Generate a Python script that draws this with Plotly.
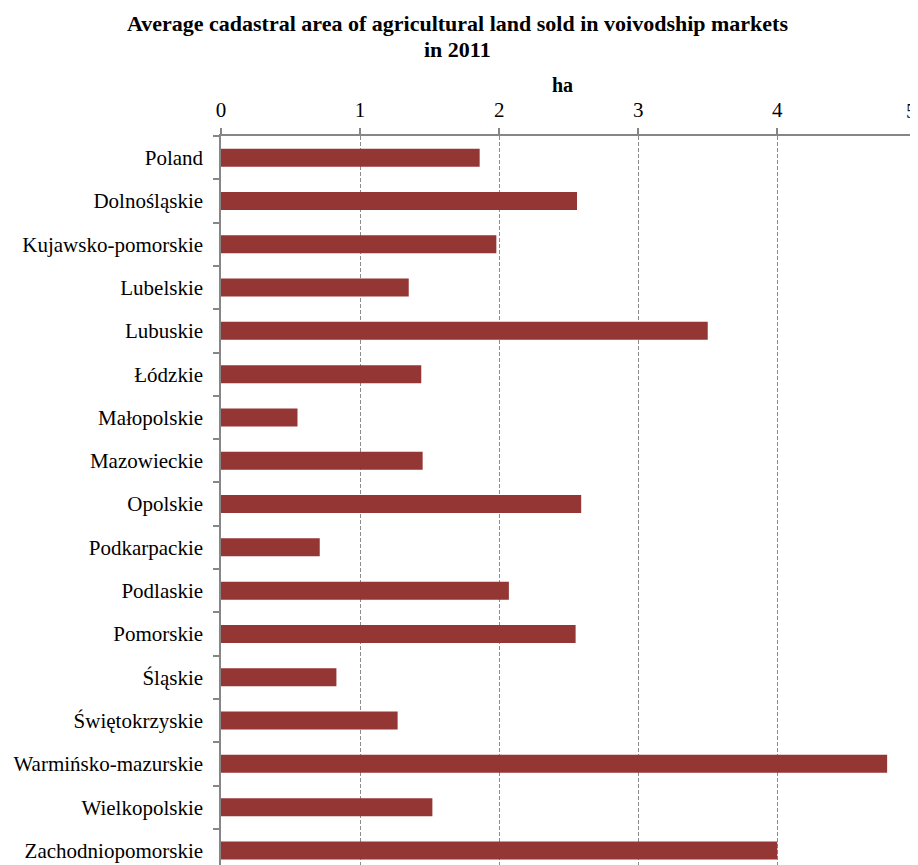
import plotly.graph_objects as go

regions = ["Poland", "Dolnośląskie", "Kujawsko-pomorskie", "Lubelskie", "Lubuskie",
           "Łódzkie", "Małopolskie", "Mazowieckie", "Opolskie", "Podkarpackie",
           "Podlaskie", "Pomorskie", "Śląskie", "Świętokrzyskie",
           "Warmińsko-mazurskie", "Wielkopolskie", "Zachodniopomorskie"]
area_ha = [1.86, 2.56, 1.98, 1.35, 3.50, 1.44, 0.55, 1.45, 2.59, 0.71,
           2.07, 2.55, 0.83, 1.27, 4.79, 1.52, 4.00]
x_ticks = [0, 1, 2, 3, 4, 5]

FONT = "Liberation Serif, Times New Roman, serif"
AXIS_GREY = "#868686"

# page body has an 8px margin; figure sized so the plot area lands where the reference has it
W, H = 910, 857
L, T, R, B = 213, 128, 0, 0
PW, PH = W - L - R, H - T - B


def py(fig_y):
    return 1 + (T - fig_y) / PH


def px(fig_x):
    return (fig_x - L) / PW


fig = go.Figure(go.Bar(
    y=regions, x=area_ha, orientation="h",
    marker=dict(color="#943634", line=dict(width=0)),
    hoverinfo="x+y",
))

# the last tick label sits at the very right edge of the page; draw it as an
# annotation that stays inside the figure instead of overflowing it
tick_text = [str(v) for v in x_ticks[:-1]] + [""]

fig.update_layout(
    width=W, height=H,
    margin=dict(l=L, r=R, t=T, b=B),
    paper_bgcolor="white", plot_bgcolor="white",
    font=dict(family=FONT, size=21, color="black"),
    bargap=0.585,
    showlegend=False,
    annotations=[
        dict(text="<b>Average cadastral area of agricultural land sold in voivodship markets</b>",
             xref="paper", yref="paper", x=px(449.5), y=py(15),
             xanchor="center", yanchor="middle", showarrow=False,
             font=dict(family=FONT, size=22, color="black")),
        dict(text="<b>in 2011</b>",
             xref="paper", yref="paper", x=px(449.5), y=py(42),
             xanchor="center", yanchor="middle", showarrow=False,
             font=dict(family=FONT, size=22, color="black")),
        dict(text="<b>ha</b>", xref="paper", yref="paper",
             x=px(554), y=py(77), xanchor="center", yanchor="middle",
             showarrow=False, font=dict(family=FONT, size=20, color="black")),
        dict(text=str(x_ticks[-1]), xref="paper", yref="paper",
             x=1, y=py(103), xanchor="right", yanchor="middle",
             showarrow=False, borderpad=0,
             font=dict(family=FONT, size=21, color="black")),
    ],
)

fig.update_xaxes(
    side="top", range=[0, 5.012], tickvals=x_ticks, ticktext=tick_text,
    showline=True, linecolor=AXIS_GREY, linewidth=1.5,
    ticks="outside", ticklen=6, tickcolor=AXIS_GREY, tickwidth=1.5,
    showgrid=True, gridcolor="#8c8c8c", gridwidth=1, griddash="4px,2px",
    zeroline=False, tickfont=dict(family=FONT, size=21), ticklabelstandoff=3,
)

fig.update_yaxes(
    type="category", categoryorder="array", categoryarray=regions,
    range=[16.336, -0.5],
    showline=True, linecolor=AXIS_GREY, linewidth=1.5,
    ticks="outside", ticklen=6, tickcolor=AXIS_GREY, tickwidth=1.5,
    tickson="boundaries", showgrid=False, zeroline=False,
    tickfont=dict(family=FONT, size=21), ticklabelstandoff=12,
)

fig.write_html("out.html")
